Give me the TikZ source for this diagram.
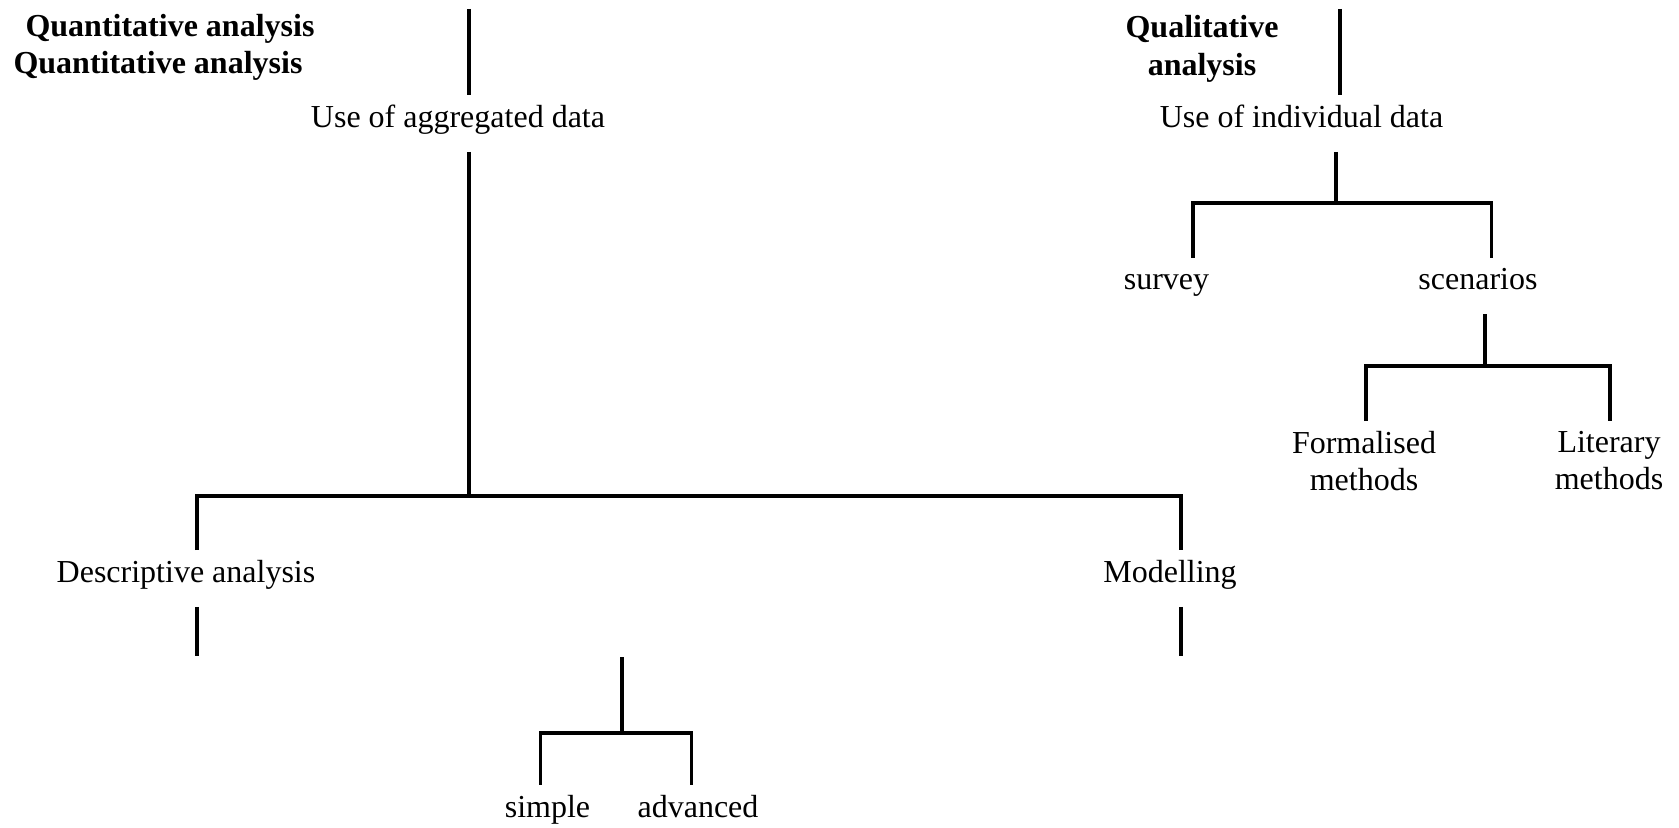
\documentclass[tikz,border=0pt]{standalone}
\usepackage{fontspec}
\setmainfont{Liberation Serif}
\usetikzlibrary{positioning}

\begin{document}
\begin{tikzpicture}[x=0.5pt, y=-0.5pt,
  every node/.style={font=\fontsize{16}{18.75}\selectfont},
  lbl/.style={inner xsep=0pt, inner ysep=4.8pt, text height=11.2pt, text depth=7.2pt, anchor=base},
  lbltwo/.style={inner xsep=0pt, inner ysep=4.8pt, align=center, anchor=north},
  head/.style={font=\fontsize{16}{18.75}\selectfont\bfseries, inner sep=0pt},
  tree/.style={line width=1.7pt}
]
\useasboundingbox (0,0) rectangle (1679,828);
% ---- headings ----
\node[head, anchor=base] (quantA) at (170,36.5) {Quantitative analysis};
\node[head, anchor=base] (quantB) at (158,74) {Quantitative analysis};
\node[head, align=center, anchor=north] (qual) at (1202,15) {Qualitative\\analysis};
% ---- labels ----
\node[lbl] (agg) at (458,127.5) {Use of aggregated data};
\node[lbl] (indiv) at (1301.5,127.5) {Use of individual data};
\node[lbl] (survey) at (1166.5,290) {survey};
\node[lbl] (scen) at (1478,290) {scenarios};
\node[lbltwo] (formal) at (1364,421) {Formalised\\methods};
\node[lbltwo] (liter) at (1609,421) {Literary\\methods};
\node[lbl] (descr) at (186,582.5) {Descriptive analysis};
\node[lbl] (model) at (1170,582.5) {Modelling};
\node[lbl] (simple) at (547.5,817) {simple};
\node[lbl] (adv) at (698,817) {advanced};
% ---- line ends and joints ----
\coordinate (aggtop) at (469,9);
\coordinate (aggbar) at (469,496);
\coordinate (indtop) at (1340,9);
\coordinate (indbar) at (1336,203);
\coordinate (scenbar) at (1485,366);
\coordinate (descend) at (197,656);
\coordinate (modend) at (1181,656);
\coordinate (advtop) at (622,657);
\coordinate (advbar) at (622,733);
% ---- aggregated data tree ----
\draw[tree] (aggtop) -- (aggtop |- agg.north);
\draw[tree] (agg.south -| aggbar) -- (aggbar);
\draw[tree] (descr.north -| descend) |- (aggbar) -| (model.north -| modend);
\draw[tree] (descr.south -| descend) -- (descend);
\draw[tree] (model.south -| modend) -- (modend);
\draw[tree] (advtop) -- (advbar);
\draw[tree] ([xshift=-3.5pt]simple.north) |- (advbar) -| ([xshift=-3.2pt]adv.north);
% ---- individual data tree ----
\draw[tree] (indtop) -- (indtop |- indiv.north);
\draw[tree] (indiv.south -| indbar) -- (indbar);
\draw[tree] ([xshift=13.25pt]survey.north) |- (indbar) -| ([xshift=6.8pt]scen.north);
\draw[tree] (scen.south -| scenbar) -- (scenbar);
\draw[tree] ([xshift=1pt]formal.north) |- (scenbar) -| ([xshift=0.5pt]liter.north);
\end{tikzpicture}
\end{document}
